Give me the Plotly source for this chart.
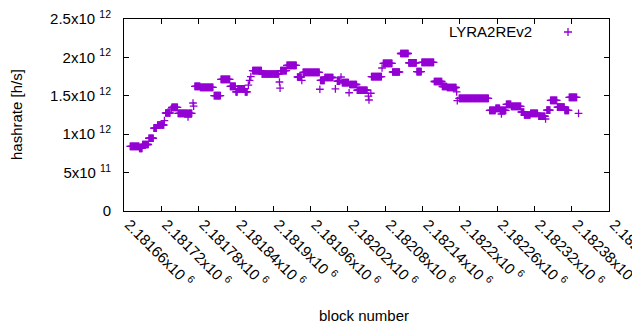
import numpy as np
import plotly.graph_objects as go

# ---- data: runs of consecutive blocks sharing the same hashrate ----
run_first_block = [
    2181670, 2181685, 2181690, 2181700, 2181708, 2181714, 2181725, 2181727, 2181736, 2181737,
    2181747, 2181763, 2181764, 2181771, 2181772, 2181774, 2181783, 2181805, 2181816, 2181831,
    2181840, 2181843, 2181855, 2181860, 2181862, 2181864, 2181867, 2181882, 2181910, 2181911,
    2181912, 2181922, 2181939, 2181946, 2181948, 2181975, 2181976, 2181983, 2182000, 2182003,
    2182009, 2182011, 2182022, 2182023, 2182035, 2182053, 2182054, 2182057, 2182058, 2182075,
    2182077, 2182092, 2182105, 2182118, 2182131, 2182139, 2182159, 2182172, 2182180, 2182195,
    2182196, 2182199, 2182248, 2182258, 2182265, 2182267, 2182275, 2182283, 2182299, 2182304,
    2182314, 2182327, 2182338, 2182340, 2182346, 2182357, 2182369, 2182376, 2182391,
]
run_last_block = [
    2181684, 2181689, 2181699, 2181707, 2181712, 2181724, 2181725, 2181734, 2181736, 2181746,
    2181762, 2181763, 2181769, 2181771, 2181772, 2181782, 2181803, 2181815, 2181830, 2181839,
    2181842, 2181854, 2181858, 2181860, 2181862, 2181864, 2181881, 2181909, 2181910, 2181911,
    2181921, 2181937, 2181945, 2181946, 2181974, 2181975, 2181982, 2181996, 2182000, 2182007,
    2182009, 2182021, 2182022, 2182034, 2182051, 2182053, 2182054, 2182057, 2182074, 2182075,
    2182091, 2182103, 2182117, 2182130, 2182138, 2182158, 2182171, 2182179, 2182194, 2182195,
    2182196, 2182246, 2182257, 2182264, 2182274, 2182267, 2182282, 2182298, 2182303, 2182313,
    2182325, 2182337, 2182338, 2182345, 2182356, 2182368, 2182375, 2182388, 2182391,
]
run_hashrate_th = [  # in units of 10^12 h/s
    0.842, 0.815, 0.866, 0.947, 1.078, 1.120, 1.178, 1.276, 1.330, 1.350,
    1.272, 1.224, 1.272, 1.406, 1.366, 1.624, 1.610, 1.501, 1.715, 1.624,
    1.550, 1.590, 1.550, 1.640, 1.700, 1.750, 1.829, 1.784, 1.680, 1.600,
    1.829, 1.895, 1.745, 1.700, 1.806, 1.585, 1.702, 1.738, 1.589, 1.690,
    1.745, 1.671, 1.540, 1.647, 1.572, 1.497, 1.445, 1.533, 1.749, 1.862,
    1.923, 1.810, 2.051, 1.930, 1.816, 1.934, 1.686, 1.621, 1.608, 1.550,
    1.436, 1.467, 1.311, 1.335, 1.311, 1.263, 1.389, 1.363, 1.289, 1.250,
    1.270, 1.234, 1.198, 1.313, 1.441, 1.352, 1.309, 1.479, 1.272,
]

series_name = "LYRA2REv2"
x_tick_blocks = list(range(2181660, 2182441, 60))
x_tick_labels = [f"{b / 1e6:g}x10 <sup>6</sup>" for b in x_tick_blocks]
y_tick_values = [0, 5e11, 1e12, 1.5e12, 2e12, 2.5e12]
y_tick_labels = ["0", "5x10 <sup>11</sup>", "1x10 <sup>12</sup>", "1.5x10 <sup>12</sup>",
                 "2x10 <sup>12</sup>", "2.5x10 <sup>12</sup>"]

# expand runs into one point per block
blocks = np.concatenate([np.arange(a, b + 1) for a, b in zip(run_first_block, run_last_block)])
hashrate = np.concatenate([np.full(b - a + 1, v * 1e12)
                           for a, b, v in zip(run_first_block, run_last_block, run_hashrate_th)])

COLOR = "#9400D3"
FONT = "Liberation Sans, Arial, sans-serif"
marker = dict(symbol="cross-thin", size=5.5, color=COLOR, line=dict(color=COLOR, width=1.3))

# The page body has an 8px default margin, so the figure is drawn 8px right/down.
OFF = 8
W, H = 640 - OFF, 330 - OFF
# plot area in page pixels -> figure pixels
pl, pr, pt, pb = 124 - OFF, 609 - OFF, 19 - OFF, 211 - OFF


def px_to_paper(x, y):
    x, y = x - OFF, y - OFF
    return (x - pl) / (pr - pl), (pb - y) / (pb - pt)


fig = go.Figure()
fig.add_trace(go.Scatter(x=blocks, y=hashrate, mode="markers", marker=marker,
                         name=series_name, showlegend=False, hoverinfo="x+y"))

axis_common = dict(showline=True, linecolor="black", linewidth=1, mirror="ticks",
                   ticks="inside", ticklen=5, tickcolor="black", tickwidth=1,
                   showgrid=False, zeroline=False, automargin=False,
                   ticklabeloverflow="allow",
                   tickfont=dict(family=FONT, size=15, color="black"))

fig.update_xaxes(range=[2181660, 2182440], tickmode="array", tickvals=x_tick_blocks,
                 ticktext=x_tick_labels, tickangle=45, ticklabelshift=5,
                 ticklabelstandoff=-2, **axis_common)
fig.update_yaxes(range=[0, 2.5e12], tickmode="array", tickvals=y_tick_values,
                 ticktext=y_tick_labels, ticklabelstandoff=9, **axis_common)

kx, ky = px_to_paper(568, 32)      # key sample "+"
ax_, ay_ = px_to_paper(534, 31)    # key text (right-aligned, gnuplot style)
yx, yy = px_to_paper(16, 115)
bx, by = px_to_paper(364, 315)

fig.update_layout(
    template="none",
    width=W, height=H,
    margin=dict(l=pl, r=W - pr, t=pt, b=H - pb, autoexpand=False),
    paper_bgcolor="white", plot_bgcolor="white",
    font=dict(family=FONT, size=15, color="black"),
    showlegend=False,
    shapes=[
        dict(type="path", xref="paper", yref="paper", xsizemode="pixel", ysizemode="pixel",
             xanchor=kx, yanchor=ky, path="M-4,0H4M0,-4V4",
             line=dict(color=COLOR, width=1.3)),
    ],
    annotations=[
        dict(text=series_name, x=ax_, y=ay_, xref="paper", yref="paper", showarrow=False,
             xanchor="right", yanchor="middle",
             font=dict(family=FONT, size=15, color="black")),
        dict(text="hashrate [h/s]", textangle=-90, x=yx, y=yy, xref="paper", yref="paper",
             showarrow=False, xanchor="center", yanchor="middle",
             font=dict(family=FONT, size=15, color="black")),
        dict(text="block number", x=bx, y=by, xref="paper", yref="paper", showarrow=False,
             xanchor="center", yanchor="middle",
             font=dict(family=FONT, size=15, color="black")),
    ],
)

fig.write_html("out.html")
